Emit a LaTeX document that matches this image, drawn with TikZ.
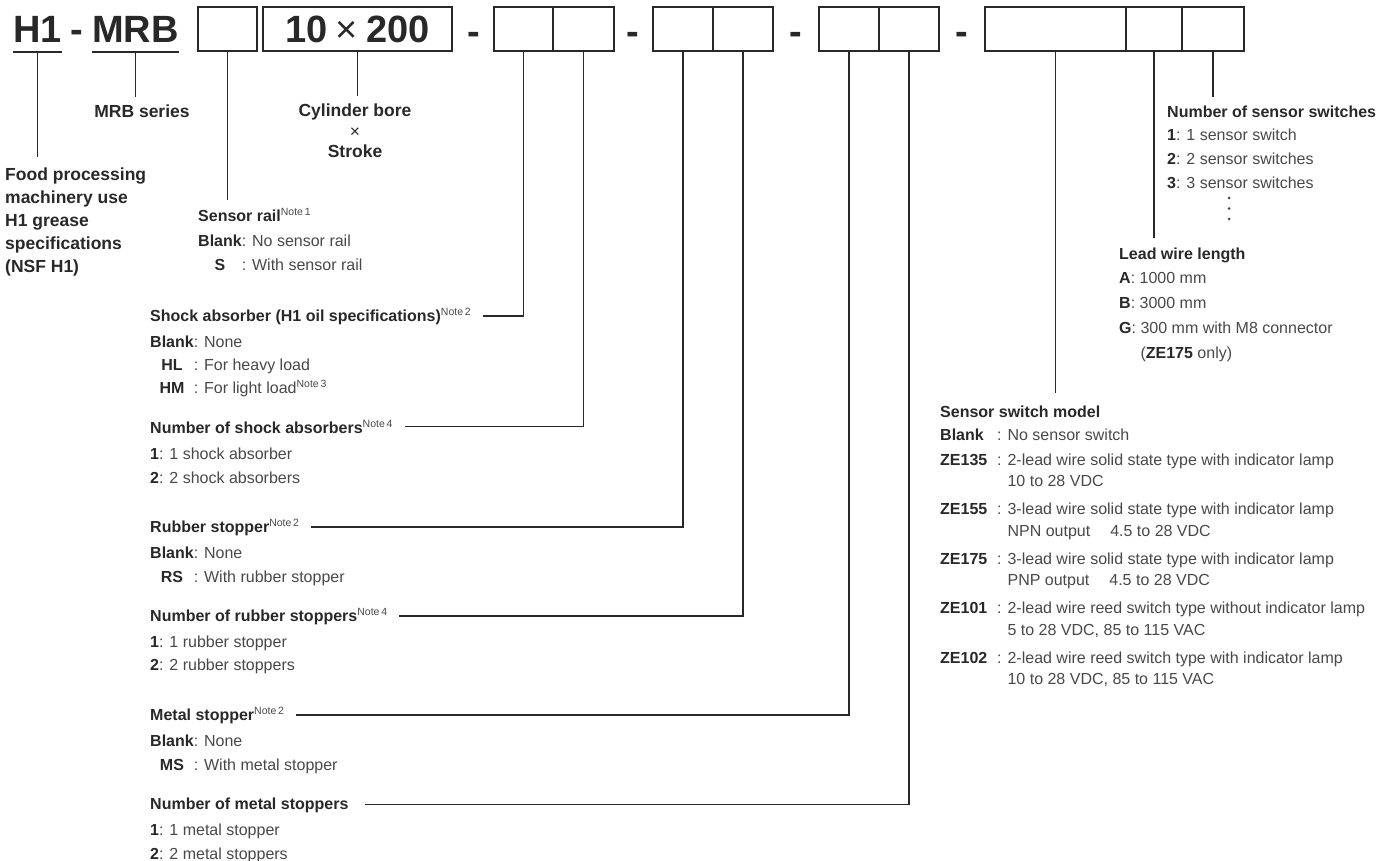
\documentclass[tikz,border=0pt]{standalone}
\usepackage{fontspec}
\setmainfont{Liberation Sans}
\usepackage{tikz}
\usetikzlibrary{positioning}
\definecolor{ink}{RGB}{40,40,40}
\definecolor{txt}{RGB}{72,72,72}
\tikzstyle{big} = [inner sep=0pt, anchor=base west, text=ink, font=\fontsize{38}{40}\selectfont\bfseries]
\tikzstyle{hyph} = [inner sep=0pt, anchor=base, text=ink, font=\fontsize{38}{40}\selectfont\bfseries]
\tikzstyle{cell} = [draw=ink, line width=1.2pt, minimum height=44pt, inner sep=0pt, text=ink, font=\fontsize{38}{40}\selectfont\bfseries]
\tikzstyle{lbl} = [inner sep=0pt, anchor=base west, text=ink, font=\fontsize{17.5}{23}\selectfont\bfseries]
\tikzstyle{head} = [inner sep=0pt, anchor=base west, text=ink, font=\fontsize{16}{20}\selectfont\bfseries]
\tikzstyle{body} = [inner sep=0pt, anchor=base west, text=txt, font=\fontsize{16}{24}\selectfont]
\tikzstyle{leader} = [draw=ink, line width=1.2pt]
\newcommand{\notemark}[1]{\raisebox{6pt}{\fontsize{10.5}{11}\selectfont\mdseries\color{txt}Note\,#1}}
\newcommand{\opt}[1]{{\bfseries\color{ink}#1}}
\newcommand{\optcol}[1]{\makebox[57pt][l]{\opt{#1}}}

\begin{document}
\begin{tikzpicture}[x=1pt, y=-1pt]
                            \useasboundingbox (0,0) rectangle (1383,861);
                            \node (h1) [big] at (13,43) {H1};
                            \node (d0) [hyph] at (77,43) {-};
                            \node (mrb) [big] at (92,43) {MRB};
                            \node (rail) [cell, minimum width=59pt] at (227.5,29) {};
                            \node (bore) [cell, minimum width=189pt] at (357.5,29) {10\hspace{8pt}{\mdseries ×}\hspace{8pt}200};
                            \node (d1) [hyph] at (474,45) {-};
                            \node (sa) [cell, minimum width=59pt] at (523.5,29) {};
                            \node (san) [cell, minimum width=61pt] at (583.5,29) {};
                            \node (d2) [hyph] at (633,45) {-};
                            \node (rs) [cell, minimum width=60pt] at (683,29) {};
                            \node (rsn) [cell, minimum width=60pt] at (743,29) {};
                            \node (d3) [hyph] at (796,45) {-};
                            \node (ms) [cell, minimum width=60pt] at (849,29) {};
                            \node (msn) [cell, minimum width=60pt] at (909,29) {};
                            \node (d4) [hyph] at (962,45) {-};
                            \node (sw) [cell, minimum width=141pt] at (1055.5,29) {};
                            \node (lw) [cell, minimum width=56pt] at (1154,29) {};
                            \node (swn) [cell, minimum width=62pt] at (1213,29) {};

                            \node (food) [lbl] at (5,181) {\begin{tabular}[t]{@{}l@{}}Food processing\\machinery use\\H1 grease\\specifications\\(NSF H1)\end{tabular}};
                            \node (series) [lbl, anchor=base] at (142,118) {MRB series};
                            \node (stroke) [lbl, anchor=base, font=\fontsize{17.5}{20.5}\selectfont\bfseries] at (355,117) {\begin{tabular}[t]{@{}c@{}}Cylinder bore\\{\mdseries ×}\\Stroke\end{tabular}};

                            \node (tRail) [head] at (198,222) {Sensor rail\notemark{1}};
                            \node (bRail) [body] at ([yshift=-24pt]tRail.base west) {\begin{tabular}[t]{@{}c@{}l@{}}\opt{Blank}&: No sensor rail\\\opt{S}&: With sensor rail\end{tabular}};
                            \node (tShock) [head] at (150,321) {Shock absorber (H1 oil specifications)\notemark{2}};
                            \node (bShock) [body, font=\fontsize{16}{23}\selectfont] at ([yshift=-26pt]tShock.base west) {\begin{tabular}[t]{@{}c@{}l@{}}\opt{Blank}&: None\\\opt{HL}&: For heavy load\\\opt{HM}&: For light load\notemark{3}\end{tabular}};
                            \node (tShockN) [head] at (150,433) {Number of shock absorbers\notemark{4}};
                            \node (bShockN) [body] at ([yshift=-26pt]tShockN.base west) {\begin{tabular}[t]{@{}l@{}}\opt{1}: 1 shock absorber\\\opt{2}: 2 shock absorbers\end{tabular}};
                            \node (tRub) [head] at (150,532) {Rubber stopper\notemark{2}};
                            \node (bRub) [body] at ([yshift=-26pt]tRub.base west) {\begin{tabular}[t]{@{}c@{}l@{}}\opt{Blank}&: None\\\opt{RS}&: With rubber stopper\end{tabular}};
                            \node (tRubN) [head] at (150,621) {Number of rubber stoppers\notemark{4}};
                            \node (bRubN) [body, font=\fontsize{16}{23}\selectfont] at ([yshift=-26pt]tRubN.base west) {\begin{tabular}[t]{@{}l@{}}\opt{1}: 1 rubber stopper\\\opt{2}: 2 rubber stoppers\end{tabular}};
                            \node (tMet) [head] at (150,720) {Metal stopper\notemark{2}};
                            \node (bMet) [body] at ([yshift=-26pt]tMet.base west) {\begin{tabular}[t]{@{}c@{}l@{}}\opt{Blank}&: None\\\opt{MS}&: With metal stopper\end{tabular}};
                            \node (tMetN) [head] at (150,809) {Number of metal stoppers};
                            \node (bMetN) [body] at ([yshift=-26pt]tMetN.base west) {\begin{tabular}[t]{@{}l@{}}\opt{1}: 1 metal stopper\\\opt{2}: 2 metal stoppers\end{tabular}};

                            \node (tSwN) [head] at (1167,118) {Number of sensor switches};
                            \node (bSwN) [body] at ([yshift=-23pt]tSwN.base west) {\begin{tabular}[t]{@{}l@{}}\opt{1}: 1 sensor switch\\\opt{2}: 2 sensor switches\\\opt{3}: 3 sensor switches\end{tabular}};
                            \foreach \y in {198,208.5,219} \fill [txt] (1229,\y) circle (1.5pt);
                            \node (tLead) [head] at (1119,259) {Lead wire length};
                            \node (bLead) [body, font=\fontsize{16}{25}\selectfont] at ([yshift=-24pt]tLead.base west) {\begin{tabular}[t]{@{}l@{}}\opt{A}: 1000 mm\\\opt{B}: 3000 mm\\\opt{G}: 300 mm with M8 connector\\\phantom{\opt{G}: }(\opt{ZE175} only)\end{tabular}};
                            \node (tModel) [head] at (940,417) {Sensor switch model};
                            \node (bModel) [body, font=\fontsize{16}{21.5}\selectfont] at ([yshift=-23pt]tModel.base west) {\begin{tabular}[t]{@{}l@{}l@{}}
                                \optcol{Blank}&: No sensor switch\\[3.5pt]
                                \optcol{ZE135}&: 2-lead wire solid state type with indicator lamp\\
                                &\phantom{: }10 to 28 VDC\\[6.5pt]
                                \optcol{ZE155}&: 3-lead wire solid state type with indicator lamp\\
                                &\phantom{: }NPN output\hspace{20pt}4.5 to 28 VDC\\[6.5pt]
                                \optcol{ZE175}&: 3-lead wire solid state type with indicator lamp\\
                                &\phantom{: }PNP output\hspace{20pt}4.5 to 28 VDC\\[6.5pt]
                                \optcol{ZE101}&: 2-lead wire reed switch type without indicator lamp\\
                                &\phantom{: }5 to 28 VDC, 85 to 115 VAC\\[6.5pt]
                                \optcol{ZE102}&: 2-lead wire reed switch type with indicator lamp\\
                                &\phantom{: }10 to 28 VDC, 85 to 115 VAC
                            \end{tabular}};

                            \draw [leader] ([yshift=-9pt]h1.base west) -- ([yshift=-9pt]h1.base east);
                            \draw [leader] ([yshift=-9pt]mrb.base west) -- ([yshift=-9pt]mrb.base east);
                            \draw [leader, shorten >=8pt] ([yshift=-9pt]h1.base) -- (h1.base |- food.north);
                            \draw [leader, shorten >=8pt] ([yshift=-9pt]mrb.base) -- (mrb.base |- series.north);
                            \draw [leader, shorten >=9pt] (rail.south) -- (rail.south |- tRail.north);
                            \draw [leader, shorten >=6pt] (bore.south) -- (bore.south |- stroke.north);
                            \draw [leader, shorten >=12pt] (sa.south) |- (tShock.east);
                            \draw [leader, shorten >=12pt] (san.south) |- (tShockN.east);
                            \draw [leader, shorten >=12pt] (rs.south) |- (tRub.east);
                            \draw [leader, shorten >=12pt] (rsn.south) |- (tRubN.east);
                            \draw [leader, shorten >=12pt] (ms.south) |- (tMet.east);
                            \draw [leader, shorten >=16pt] (msn.south) |- (tMetN.east);
                            \draw [leader, shorten >=12pt] (sw.south) -- (sw.south |- tModel.north);
                            \draw [leader, shorten >=9pt] (lw.south) -- (lw.south |- tLead.north);
                            \draw [leader, shorten >=9pt] (swn.south) -- (swn.south |- tSwN.north);
                        \end{tikzpicture}
\end{document}
